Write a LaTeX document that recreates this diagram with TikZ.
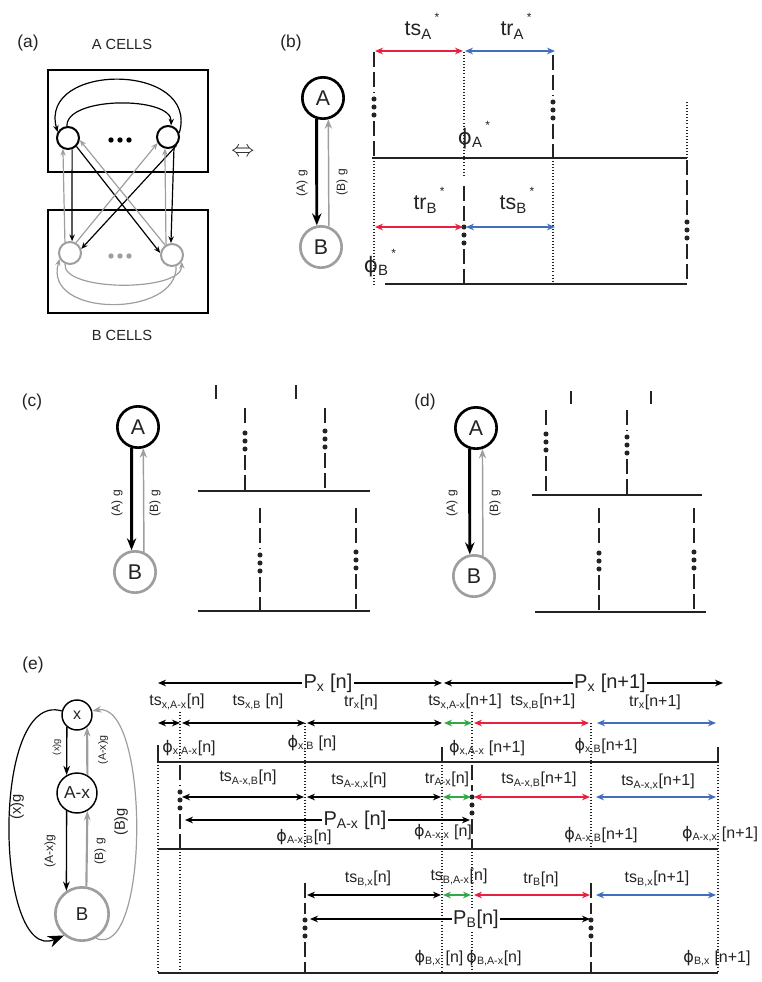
\documentclass[tikz,border=0pt]{standalone}
\usepackage{fontspec}
\setmainfont{Liberation Sans}
\newfontfamily\phifont{DejaVu Sans}
\usetikzlibrary{arrows.meta}

\definecolor{tsred}{RGB}{232,32,64}
\definecolor{trblue}{RGB}{66,110,190}
\definecolor{tgreen}{RGB}{52,168,72}
\definecolor{cellgray}{RGB}{158,158,158}
\definecolor{ink}{RGB}{35,35,35}

% label helpers
\newcommand{\tlab}[3]{#1\textsubscript{#2}#3}
\newcommand{\phlab}[2]{{\phifont ϕ}\textsubscript{#1}#2}
\newcommand{\starlab}[2]{#1\textsubscript{#2}\hspace{2pt}\raisebox{1.3ex}{\small*}}
% dashed spike line with three dots
\newcommand{\spike}[4]{%
  \draw[longdash] (#1,#2) -- (#1,{#3-6});
  \fill[ink] (#1,#3) circle (1.9pt) (#1,{#3+8}) circle (1.9pt) (#1,{#3+16}) circle (1.9pt);
  \draw[longdash] (#1,{#3+22}) -- (#1,#4);}

\begin{document}
\begin{tikzpicture}[
    x=0.75pt, y=-0.75pt,
    every node/.style={text=ink},
    cellA/.style={circle, draw=black, line width=1.5pt, minimum size=16.5pt, inner sep=0pt},
    cellB/.style={cellA, draw=cellgray},
    popA/.style={circle, draw=black, line width=2pt, minimum size=31pt, inner sep=0pt, font=\fontsize{16}{18}\selectfont},
    popB/.style={popA, draw=cellgray},
    panel/.style={font=\fontsize{13}{15}\selectfont},
    capt/.style={font=\fontsize{11}{13}\selectfont},
    boxline/.style={line width=2pt},
    inA/.style={-{Stealth[length=5pt, width=4pt]}, line width=0.9pt, black},
    inB/.style={-{Stealth[length=5pt, width=4pt]}, line width=0.9pt, cellgray},
    synA/.style={-{Stealth[length=9pt, width=7pt]}, line width=2.2pt, black},
    synB/.style={-{Stealth[length=7pt, width=5.5pt]}, line width=1.1pt, cellgray},
    syn/.style={font=\fontsize{9}{11}\selectfont, rotate=90},
    longdash/.style={dash pattern=on 11pt off 4pt, line width=0.9pt, ink},
    dotline/.style={dash pattern=on 0.7pt off 1.6pt, line width=0.8pt, ink},
    tline/.style={line width=0.8pt, ink},
    dur/.style={{Stealth[length=6pt, width=5pt]}-{Stealth[length=6pt, width=5pt]}, line width=0.9pt},
    big/.style={font=\fontsize{16}{18}\selectfont},
    tslab/.style={font=\fontsize{12}{14}\selectfont, inner sep=0pt},
    per/.style={font=\fontsize{15}{17}\selectfont, fill=white, inner sep=1pt},
    ecell/.style={circle, draw=black, line width=1.1pt, inner sep=0pt},
    eg/.style={-{Stealth[length=7pt, width=5pt]}, line width=1pt, black},
    egB/.style={-{Stealth[length=7pt, width=5pt]}, line width=1.6pt, cellgray},
]
\useasboundingbox (0,0) rectangle (761,982);

% ============ PANEL A: cell populations ============
\node[panel] (la) at (28,43) {(a)};
\node[capt] (acells) at (122,44) {A CELLS};
\node[capt] (bcells) at (122,335) {B CELLS};
\draw[boxline] (48,70) rectangle (208,172);
\draw[boxline] (48,210) rectangle (208,313);

\node[cellA] (aTL) at (68,138) {};
\node[cellA] (aTR) at (168,137) {};
\node[cellB] (aBL) at (70,253) {};
\node[cellB] (aBR) at (172,255) {};
\foreach \i in {-1,0,1} {
  \fill[black] ({120+9*\i},140) circle (2pt);
  \fill[cellgray] ({120+9*\i},256) circle (2pt);
}

% within A
\draw[inA] (aTR.20) .. controls (200,62) and (38,62) .. (aTL.150);
\draw[inA] (aTL.95) .. controls (66,96) and (172,96) .. (aTR.75);
% A to B
\draw[inA] (aTL.-70) -- (aBL.80);
\draw[inA] (aTR.-60) -- (aBR.95);
\draw[inA] (aTL.-45) -- (aBR.170);
\draw[inA] (aTR.-45) -- (aBL.20);
% B to A
\draw[inB] (aBL.115) -- (aTL.-115);
\draw[inB] (aBR.120) -- (aTR.-105);
\draw[inB] (aBR.125) -- (aTL.-10);
\draw[inB] (aBL.60) -- (aTR.-150);
% within B
\draw[inB] (aBR.-70) .. controls (178,318) and (42,318) .. (aBL.-150);
\draw[inB] (aBL.-115) .. controls (62,292) and (182,292) .. (aBR.-35);

\node[font=\fontsize{17}{19}\selectfont] (equiv) at (243,152) {$\Leftrightarrow$};

% ============ PANEL B: two populations ============
\node[panel] (lb) at (291,43) {(b)};
\node[popA] (bA) at (323,98) {A};
\node[popB] (bB) at (321,247) {B};
\draw[synA] (bA.-107) -- (bB.101);
\draw[synB] (bB.69) -- (bA.-76);
\node[syn] (bAg) at (302,183) {(A) g};
\node[syn] (bBg) at (342,182) {(B) g};

\draw[tline] (372,158) -- (687,158);
\draw[tline] (385,284) -- (687,284);
\spike{374}{52}{99}{158}
\draw[dotline] (374,158) -- (374,284);
\draw[dotline] (464,52) -- (464,175);
\spike{464}{186}{227}{284}
\spike{553}{55}{102}{158}
\draw[dotline] (553,158) -- (553,285);
\draw[dotline] (687,102) -- (687,158);
\spike{687}{160}{222}{283}

\draw[dur, tsred] (375,51) -- (463,51);
\draw[dur, trblue] (465,51) -- (555,51);
\draw[dur, tsred] (375,227) -- (463,227);
\draw[dur, trblue] (466,227) -- (555,227);

\node[big] (tsA) at (422,26) {\starlab{ts}{A}};
\node[big] (trA) at (516,26) {\starlab{tr}{A}};
\node[big] (phA) at (474,135) {\starlab{{\phifont ϕ}}{A}};
\node[big] (trB) at (429,200) {\starlab{tr}{B}};
\node[big] (tsB) at (517,200) {\starlab{ts}{B}};
\node[big] (phB) at (380,263) {\starlab{{\phifont ϕ}}{B}};

% ============ PANEL C ============
\node[panel] (lc) at (32,402) {(c)};
\node[popA] (cA) at (138,427) {A};
\node[popB] (cB) at (135,572) {B};
\draw[synA] (cA.-107) -- (cB.99);
\draw[synB] (cB.66) -- (cA.-76);
\node[syn] (cAg) at (117,503) {(A) g};
\node[syn] (cBg) at (155,503) {(B) g};

\draw[tline] (198,491) -- (370,491);
\draw[tline] (198,611) -- (370,611);
\draw[tline] (216,385) -- (216,399);
\draw[tline] (296,385) -- (296,399);
\spike{245}{408}{433}{491}
\spike{325}{408}{431}{491}
\spike{260}{508}{555}{611}
\spike{356}{508}{552}{611}

% ============ PANEL D ============
\node[panel] (ld) at (425,402) {(d)};
\node[popA] (dA) at (476,428) {A};
\node[popB] (dB) at (474,576) {B};
\draw[synA] (dA.-107) -- (dB.101);
\draw[synB] (dB.66) -- (dA.-73);
\node[syn] (dAg) at (452,503) {(A) g};
\node[syn] (dBg) at (495,503) {(B) g};

\draw[tline] (532,495) -- (702,495);
\draw[tline] (535,612) -- (706,612);
\draw[tline] (571,391) -- (571,404);
\draw[tline] (651,391) -- (651,404);
\spike{546}{410}{434}{495}
\spike{627}{410}{437}{495}
\spike{599}{508}{553}{612}
\spike{694}{508}{552}{612}

% ============ PANEL E: three populations ============
\node[panel] (le) at (33,665) {(e)};
\node[ecell, minimum size=22.5pt, font=\fontsize{12}{14}\selectfont] (ex) at (77,715) {x};
\node[ecell, minimum size=30pt, font=\fontsize{13}{15}\selectfont] (eAx) at (77,793) {A-x};
\node[ecell, draw=cellgray, line width=2pt, minimum size=40pt, font=\fontsize{14}{16}\selectfont] (eB) at (82,914) {B};

\draw[eg] (ex.-130) -- (eAx.120);
\draw[egB] (eAx.60) -- (ex.-50);
\draw[eg] (eAx.-120) -- (eB.124);
\draw[egB] (eB.81) -- (eAx.-60);
\draw[-{Stealth[length=12pt, width=9pt]}, line width=0.9pt, black] (ex.165) .. controls (-10,690) and (-5,965) .. (eB.-130);
\draw[-{Stealth[length=7pt, width=5pt]}, line width=0.9pt, cellgray] (eB.-60) .. controls (150,962) and (150,700) .. (ex.15);

\node[font=\fontsize{7}{8}\selectfont, rotate=90] (exg) at (57,747) {(x)g};
\node[font=\fontsize{8}{9}\selectfont, rotate=90] (eAxg) at (103,750) {(A-x)g};
\node[font=\fontsize{9}{10}\selectfont, rotate=90] (eAxBg) at (50,851) {(A-x)g};
\node[font=\fontsize{9}{10}\selectfont, rotate=90] (eBg) at (100,851) {(B) g};
\node[font=\fontsize{11}{12}\selectfont, rotate=90] (exBg) at (17,807) {(x)g};
\node[font=\fontsize{11}{12}\selectfont, rotate=90] (eBxg) at (121,822) {(B)g};

% rows
\draw[tline] (158,762) -- (718,762);
\draw[tline] (158,849) -- (718,849);
\draw[tline] (158,973) -- (718,973);

% verticals
\draw[tline] (158,745) -- (158,762);
\draw[dotline] (158,762) -- (158,973);
\draw[dotline] (180,712) -- (180,762);
\spike{180}{765}{792}{849}
\draw[dotline] (180,849) -- (180,973);
\draw[dotline] (305,723) -- (305,849);
\spike{305}{883}{920}{973}
\draw[tline] (442,747) -- (442,762);
\draw[dotline] (442,762) -- (442,973);
\draw[dotline] (472,712) -- (472,762);
\spike{472}{765}{797}{849}
\draw[dotline] (472,849) -- (472,973);
\draw[dotline] (591,723) -- (591,849);
\spike{591}{883}{920}{973}
\draw[tline] (718,747) -- (718,762);
\draw[dotline] (718,762) -- (718,973);

% periods
\draw[dur] (158,683) -- (442,683);
\draw[dur] (444,683) -- (723,683);
\node[per] (Pxn) at (328,683) {\tlab{P}{x}{ [n]}};
\node[per] (Pxn1) at (610,683) {\tlab{P}{x}{ [n+1]}};
\draw[dur] (185,820) -- (470,820);
\node[per] (PAxn) at (355,820) {\tlab{P}{A-x}{ [n]}};
\draw[dur] (310,919) -- (590,919);
\node[per] (PBn) at (476,919) {\tlab{P}{B}{[n]}};

% x row
\draw[dur] (158,723) -- (180,723);
\draw[dur] (182,723) -- (305,723);
\draw[dur] (307,723) -- (442,723);
\draw[dur, tgreen] (444,723) -- (472,723);
\draw[dur, tsred] (474,723) -- (589,723);
\draw[dur, trblue] (597,723) -- (716,723);
\node[tslab] (tsxAn) at (177,702) {\tlab{ts}{x,A-x}{[n]}};
\node[tslab] (tsxBn) at (258,702) {\tlab{ts}{x,B}{ [n]}};
\node[tslab] (trxn) at (361,702) {\tlab{tr}{x}{[n]}};
\node[tslab] (tsxAn1) at (465,702) {\tlab{ts}{x,A-x}{[n+1]}};
\node[tslab] (tsxBn1) at (543,702) {\tlab{ts}{x,B}{[n+1]}};
\node[tslab] (trxn1) at (655,702) {\tlab{tr}{x}{[n+1]}};
\node[tslab] (phxAn) at (189,748) {\phlab{x,A-x}{[n]}};
\node[tslab] (phxBn) at (312,743) {\phlab{x,B}{ [n]}};
\node[tslab] (phxAn1) at (487,748) {\phlab{x,A-x}{ [n+1]}};
\node[tslab] (phxBn1) at (606,746) {\phlab{x,B}{[n+1]}};

% A-x row
\draw[dur] (182,797) -- (304,797);
\draw[dur] (307,797) -- (441,797);
\draw[dur, tgreen] (443,797) -- (471,797);
\draw[dur, tsred] (474,797) -- (590,797);
\draw[dur, trblue] (596,797) -- (716,797);
\node[tslab] (tsABn) at (248,778) {\tlab{ts}{A-x,B}{[n]}};
\node[tslab] (tsAxn) at (359,781) {\tlab{ts}{A-x,x}{[n]}};
\node[tslab] (trAn) at (447,779) {\tlab{tr}{A-x}{[n]}};
\node[tslab] (tsABn1) at (539,780) {\tlab{ts}{A-x,B}{[n+1]}};
\node[tslab] (tsAxn1) at (658,782) {\tlab{ts}{A-x,x}{[n+1]}};
\node[tslab] (phABn) at (304,837) {\phlab{A-x,B}{[n]}};
\node[tslab] (phAxn) at (443,832) {\phlab{A-x,x}{ [n]}};
\node[tslab] (phABn1) at (601,835) {\phlab{A-x,B}{[n+1]}};
\node[tslab] (phAxn1) at (720,834) {\phlab{A-x,x}{ [n+1]}};

% B row
\draw[dur] (307,895) -- (441,895);
\draw[dur, tgreen] (443,895) -- (471,895);
\draw[dur, tsred] (474,895) -- (590,895);
\draw[dur, trblue] (596,895) -- (716,895);
\node[tslab] (tsBxn) at (368,879) {\tlab{ts}{B,x}{[n]}};
\node[tslab] (tsBAn) at (459,877) {\tlab{ts}{B,A-x}{[n]}};
\node[tslab] (trBn) at (541,879) {\tlab{tr}{B}{[n]}};
\node[tslab] (tsBxn1) at (657,879) {\tlab{ts}{B,x}{[n+1]}};
\node[tslab] (phBxn) at (439,958) {\phlab{B,x}{ [n]}};
\node[tslab] (phBAn) at (494,958) {\phlab{B,A-x}{[n]}};
\node[tslab] (phBxn1) at (717,958) {\phlab{B,x}{ [n+1]}};

\end{tikzpicture}
\end{document}
